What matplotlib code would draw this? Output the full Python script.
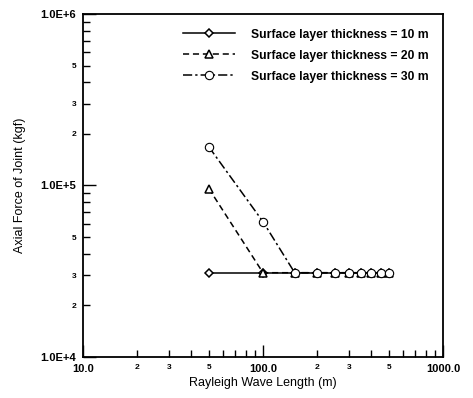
import numpy as np
import matplotlib
matplotlib.use("Agg")
import matplotlib.pyplot as plt
from matplotlib.ticker import FixedLocator, FuncFormatter

# wave length (m)
wave_len = [50, 100, 150, 200, 250, 300, 350, 400, 450, 500]

# axial force of joint (kgf)
force_10m = [31000, 31000, 31000, 31000, 31000, 31000, 31000, 31000, 31000, 31000]
force_20m = [96000, 31000, 31000, 31000, 31000, 31000, 31000, 31000, 31000, 31000]
force_30m = [168000, 61500, 31000, 31000, 31000, 31000, 31000, 31000, 31000, 31000]

labels = ["Surface layer thickness = 10 m",
          "Surface layer thickness = 20 m",
          "Surface layer thickness = 30 m"]

plt.rcParams["font.family"] = ["Liberation Sans", "DejaVu Sans"]

fig = plt.figure(figsize=(4.73, 3.98), dpi=100)
ax = fig.add_axes([0.1755, 0.103, 0.761, 0.862])

ax.plot(wave_len, force_10m, color="black", ls="-", lw=1.1, marker="D", ms=4.5,
        mfc="white", mec="black", mew=1.1, label=labels[0])
ax.plot(wave_len, force_20m, color="black", ls=(0, (4, 2.5)), lw=1.1, marker="^", ms=6,
        mfc="white", mec="black", mew=1.1, label=labels[1])
ax.plot(wave_len, force_30m, color="black", ls=(0, (6, 2, 1.5, 2)), lw=1.1, marker="o", ms=6,
        mfc="white", mec="black", mew=0.8, label=labels[2])

ax.set_xscale("log")
ax.set_yscale("log")
ax.set_xlim(10, 1000)
ax.set_ylim(1e4, 1e6)

def major_x(v, pos):
    return f"{v:.1f}"

def major_y(v, pos):
    return f"{v:.1E}".replace("E+0", "E+")

def minor_lab(v, pos):
    d = int(round(v / 10 ** np.floor(np.log10(v) + 1e-9)))
    return str(d) if d in (2, 3, 5) else ""

ax.xaxis.set_major_locator(FixedLocator([10, 100, 1000]))
ax.yaxis.set_major_locator(FixedLocator([1e4, 1e5, 1e6]))
ax.xaxis.set_minor_locator(FixedLocator([m * 10 ** e for e in (1, 2) for m in range(2, 10)]))
ax.yaxis.set_minor_locator(FixedLocator([m * 10 ** e for e in (4, 5) for m in range(2, 10)]))
ax.xaxis.set_major_formatter(FuncFormatter(major_x))
ax.yaxis.set_major_formatter(FuncFormatter(major_y))
ax.xaxis.set_minor_formatter(FuncFormatter(minor_lab))
ax.yaxis.set_minor_formatter(FuncFormatter(minor_lab))

ax.tick_params(which="both", direction="in", top=False, right=False, width=1)
ax.tick_params(which="major", length=9, labelsize=8, pad=5)
ax.tick_params(which="minor", length=5, labelsize=6, pad=5)
for t in ax.get_xticklabels() + ax.get_yticklabels():
    t.set_fontweight("bold")
for t in ax.get_xticklabels(minor=True) + ax.get_yticklabels(minor=True):
    t.set_fontweight("bold")

for s in ax.spines.values():
    s.set_linewidth(1.3)

ax.set_xlabel("Rayleigh Wave Length (m)", fontsize=9, labelpad=2)
ax.set_ylabel("Axial Force of Joint (kgf)", fontsize=9, labelpad=10)

leg = ax.legend(loc="upper right", bbox_to_anchor=(1.0, 1.0), frameon=False,
                fontsize=8.75, handlelength=4.3, handletextpad=1.3,
                labelspacing=0.75, borderaxespad=0.9, borderpad=0.3)
for t in leg.get_texts():
    t.set_fontweight("bold")

fig.savefig("out.png", dpi=100)
